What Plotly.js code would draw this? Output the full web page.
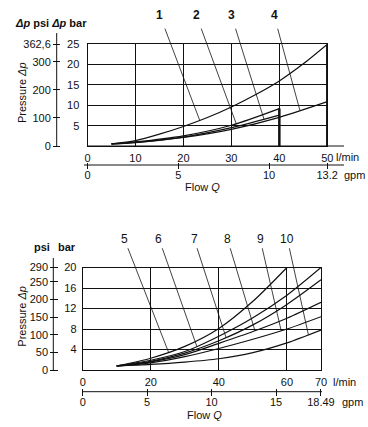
<!DOCTYPE html>
<html><head><meta charset="utf-8">
<script src="https://cdn.plot.ly/plotly-3.0.1.min.js"></script>
<style>html,body{margin:0;padding:0;background:#fff}#chart{width:368px;height:427px}</style>
</head><body><div id="chart"></div>
<script>
// ---------- DATA: upper chart (flow l/min, pressure bar)
const topFlow1 = [5,10,15,20,25,30,35,40,45,50];
const topP1    = [0.5,1.3,2.9,4.8,7.0,9.6,12.6,16.0,20.2,25.0];
const topFlow2 = [5,10,20,30,40];
const topP2    = [0.5,1.0,2.5,5.1,9.2];
const topFlow3 = [5,10,20,30,40];
const topP3    = [0.5,0.9,2.2,4.5,7.6];
const topFlow4 = [5,10,20,30,40,50];
const topP4    = [0.5,0.85,2.1,4.1,7.05,10.9];
const topCurveLabels = ['1','2','3','4'];
const topLeaderFlow  = [23.4,31,36.8,44.3];
const topLminTicks = [0,10,20,30,40,50];
const topBarTicks  = [5,10,15,20,25];
const topPsiTicks  = [0,100,200,300,362.6];
const topPsiText   = ['0','100','200','300','362,6'];
const topGpmTicks  = [0,5,10,13.2];
const topGpmText   = ['0','5','10','13.2'];

// ---------- DATA: lower chart
const botFlow5 = [10,20,30,40,50,60];
const botP5    = [0.8,2.3,4.6,8.1,13.4,20.0];
const botFlow  = [10,20,30,40,50,60,70];
const botP6    = [0.8,1.9,3.6,6.6,10.2,14.6,20.0];
const botP7    = [0.8,1.7,3.3,5.7,8.8,12.8,17.6];
const botP8    = [0.8,1.6,3.0,5.2,7.5,10.1,13.2];
const botP9    = [0.8,1.4,2.6,4.2,6.0,8.0,10.4];
const botP10   = [0.8,1.1,1.55,2.2,3.4,5.3,7.8];
const botCurveLabels = ['5','6','7','8','9','10'];
const botLeaderFlow  = [25.2,33.5,42.1,50.6,58.3,66.3];
const botLminTicks = [0,20,40,60,70];
const botBarTicks  = [4,8,12,16,20];
const botPsiTicks  = [0,50,100,150,200,250,290];
const botGpmTicks  = [0,5,10,15,18.49];
const botGpmText   = ['0','5','10','15','18.49'];

// ---------- helpers / layout constants
const W = 368, H = 427;
const px = v => v / W, py = v => 1 - v / H;
const FONT = 'Liberation Sans, Arial, sans-serif';
const INK = '#111';
function interp(xs, ys, x){
  for (let i = 0; i < xs.length - 1; i++){
    if (x >= xs[i] && x <= xs[i+1]) return ys[i] + (ys[i+1]-ys[i])*(x-xs[i])/(xs[i+1]-xs[i]);
  }
  return ys[ys.length-1];
}
const topDomX = [px(87.5), px(327.3)], topDomY = [py(146), py(44.3)];
const botDomX = [px(82.7), px(321)],   botDomY = [py(370), py(267.5)];

function curve(x, y, xa, ya){
  return {x, y, xaxis: xa, yaxis: ya, type: 'scatter', mode: 'lines',
          line: {color: INK, width: 1.2, shape: 'spline', smoothing: 0.8},
          hoverinfo: 'skip', showlegend: false};
}
const topCurves = [[topFlow1, topP1],[topFlow2, topP2],[topFlow3, topP3],[topFlow4, topP4]];
const botCurves = [[botFlow5, botP5],[botFlow, botP6],[botFlow, botP7],[botFlow, botP8],[botFlow, botP9],[botFlow, botP10]];

const data = [];
topCurves.forEach(c => data.push(curve(c[0], c[1], 'x', 'y')));
botCurves.forEach(c => data.push(curve(c[0], c[1], 'x2', 'y2')));
// empty traces so the secondary (psi / gpm) axes are drawn
data.push({x: [], y: [], xaxis: 'x', yaxis: 'y3', type: 'scatter', showlegend: false});
data.push({x: [], y: [], xaxis: 'x3', yaxis: 'y', type: 'scatter', showlegend: false});
data.push({x: [], y: [], xaxis: 'x2', yaxis: 'y4', type: 'scatter', showlegend: false});
data.push({x: [], y: [], xaxis: 'x4', yaxis: 'y2', type: 'scatter', showlegend: false});

const tickFont = {family: FONT, size: 11, color: INK};
const baseMain = {showgrid: true, gridcolor: INK, gridwidth: 1, showline: true, linecolor: INK,
                  linewidth: 1, mirror: true, zeroline: false, fixedrange: true, tickfont: tickFont};

const annotations = [];
function txt(x, y, text, opts){
  annotations.push(Object.assign({xref: 'paper', yref: 'paper', x: px(x), y: py(y), text,
     showarrow: false, xanchor: 'center', yanchor: 'middle',
     font: {family: FONT, size: 11, color: INK}}, opts || {}));
}
txt(51, 22.7, '<b><i>Δp</i> psi <i>Δp</i> bar</b>');
txt(22, 93, 'Pressure <i>Δp</i>', {textangle: -90});
txt(203, 187, 'Flow <i>Q</i>');
txt(334, 157, 'l/min', {xanchor: 'left'});
txt(342, 175, 'gpm', {xanchor: 'left'});
txt(41.7, 247.3, '<b>psi</b>');
txt(66.7, 247.3, '<b>bar</b>');
txt(22, 316.7, 'Pressure <i>Δp</i>', {textangle: -90});
txt(204, 415, 'Flow <i>Q</i>');
txt(331, 381.7, 'l/min', {xanchor: 'left'});
txt(340, 401.7, 'gpm', {xanchor: 'left'});

// curve number labels with leader lines
const topLabelX = [15.1, 22.7, 30.0, 38.9], topLabelY = 32.1;
topCurveLabels.forEach((t, i) => {
  const c = topCurves[i], fx = topLeaderFlow[i];
  annotations.push({xref: 'x', yref: 'y', axref: 'x', ayref: 'y', x: fx, y: interp(c[0], c[1], fx),
    ax: topLabelX[i], ay: topLabelY, text: '<b>' + t + '</b>', showarrow: true, arrowhead: 0,
    arrowwidth: 0.8, arrowcolor: INK, standoff: 0, startstandoff: 5,
    font: {family: FONT, size: 12, color: INK}});
});
const botLabelX = [12.2, 22.4, 32.7, 42.5, 52.1, 60.1], botLabelY = 25.6;
botCurveLabels.forEach((t, i) => {
  const c = botCurves[i], fx = botLeaderFlow[i];
  annotations.push({xref: 'x2', yref: 'y2', axref: 'x2', ayref: 'y2', x: fx, y: interp(c[0], c[1], fx),
    ax: botLabelX[i], ay: botLabelY, text: t, showarrow: true, arrowhead: 0,
    arrowwidth: 0.8, arrowcolor: INK, standoff: 0, startstandoff: 1,
    font: {family: FONT, size: 12, color: INK}});
});

const shapes = [
  {type: 'line', xref: 'paper', yref: 'paper', x0: topDomX[0], x1: px(344), y0: topDomY[0], y1: topDomY[0], line: {color: INK, width: 1}},
  {type: 'line', xref: 'paper', yref: 'paper', x0: px(84), x1: px(344), y0: py(165), y1: py(165), line: {color: INK, width: 1}},
  {type: 'line', xref: 'paper', yref: 'paper', x0: botDomX[0], x1: px(322), y0: py(391.7), y1: py(391.7), line: {color: INK, width: 1}},
  {type: 'line', xref: 'paper', yref: 'paper', x0: px(56.7), x1: px(56.7), y0: topDomY[0], y1: py(33), line: {color: INK, width: 1}},
  {type: 'line', xref: 'paper', yref: 'paper', x0: px(53.3), x1: px(53.3), y0: botDomY[0], y1: py(258), line: {color: INK, width: 1}},
  {type: 'line', xref: 'x', yref: 'y', x0: topFlow2[topFlow2.length-1], x1: topFlow2[topFlow2.length-1], y0: 0, y1: topP2[topP2.length-1], line: {color: INK, width: 2.5}},
  {type: 'line', xref: 'x', yref: 'y', x0: topFlow1[topFlow1.length-1], x1: topFlow1[topFlow1.length-1], y0: 0, y1: topP1[topP1.length-1], line: {color: INK, width: 2.5}}
];

const layout = {
  width: W, height: H, margin: {l: 0, r: 0, t: 0, b: 0}, paper_bgcolor: '#fff', plot_bgcolor: '#fff',
  showlegend: false, font: {family: FONT, size: 11, color: INK},
  xaxis: Object.assign({}, baseMain, {domain: topDomX, anchor: 'y', range: [0, 50], tickvals: topLminTicks,
           ticktext: topLminTicks.map(String), ticks: 'outside', ticklen: 2, tickcolor: 'rgba(0,0,0,0)'}),
  yaxis: Object.assign({}, baseMain, {domain: topDomY, anchor: 'x', range: [0, 25], tickvals: topBarTicks,
           ticktext: topBarTicks.map(String), ticks: 'outside', ticklen: 5, tickcolor: 'rgba(0,0,0,0)'}),
  yaxis3: {overlaying: 'y', anchor: 'free', position: px(60), side: 'left', range: [0, 362.6],
           tickvals: topPsiTicks, ticktext: topPsiText, ticks: 'outside', ticklen: 7, tickcolor: INK, tickwidth: 1,
           showgrid: false, showline: false, zeroline: false, fixedrange: true, tickfont: tickFont},
  xaxis3: {overlaying: 'x', anchor: 'free', position: py(162.3), side: 'bottom', range: [0, 50/3.7854],
           tickvals: topGpmTicks, ticktext: topGpmText, ticks: 'outside', ticklen: 6, tickcolor: INK, tickwidth: 1,
           ticklabelstandoff: -4,
           showgrid: false, showline: false, zeroline: false, fixedrange: true, tickfont: tickFont},
  xaxis2: Object.assign({}, baseMain, {domain: botDomX, anchor: 'y2', range: [0, 70], tickvals: botLminTicks,
           ticktext: botLminTicks.map(String), ticks: 'outside', ticklen: 2, tickcolor: 'rgba(0,0,0,0)'}),
  yaxis2: Object.assign({}, baseMain, {domain: botDomY, anchor: 'x2', range: [0, 20], tickvals: botBarTicks,
           ticktext: botBarTicks.map(String), ticks: 'outside', ticklen: 3, tickcolor: 'rgba(0,0,0,0)'}),
  yaxis4: {overlaying: 'y2', anchor: 'free', position: px(58.3), side: 'left', range: [0, 290.075],
           tickvals: botPsiTicks, ticktext: botPsiTicks.map(String), ticks: 'outside', ticklen: 8, tickcolor: INK, tickwidth: 1,
           showgrid: false, showline: false, zeroline: false, fixedrange: true, tickfont: tickFont},
  xaxis4: {overlaying: 'x2', anchor: 'free', position: py(388.3), side: 'bottom', range: [0, 70/3.7854],
           tickvals: botGpmTicks, ticktext: botGpmText, ticks: 'outside', ticklen: 7, tickcolor: INK, tickwidth: 1,
           ticklabelstandoff: -4,
           showgrid: false, showline: false, zeroline: false, fixedrange: true, tickfont: tickFont},
  annotations, shapes
};
Plotly.newPlot('chart', data, layout, {displayModeBar: false, staticPlot: true});
</script></body></html>
